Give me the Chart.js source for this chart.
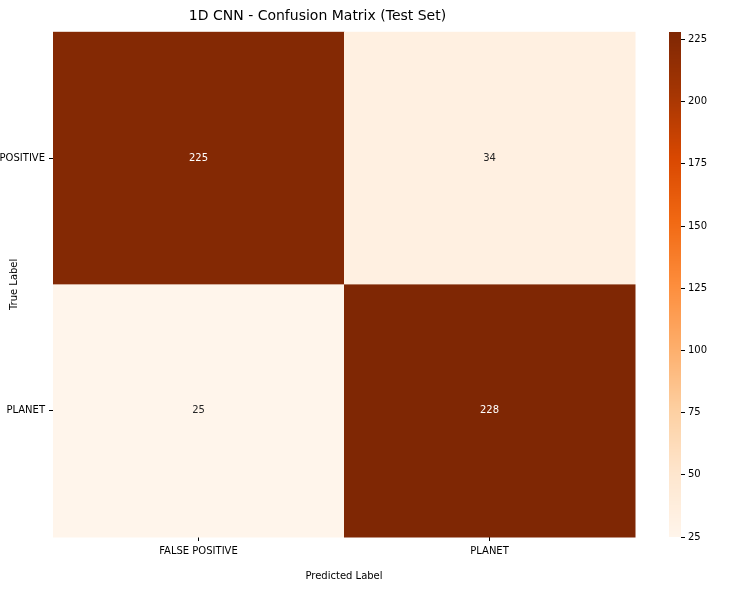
<!DOCTYPE html>
<html><head><meta charset="utf-8">
<script src="https://cdn.jsdelivr.net/npm/chart.js@4/dist/chart.umd.min.js"></script>
<style>body{margin:0;background:#fff}canvas{position:absolute;left:0;top:0}</style>
</head><body>
<div style="position:absolute;left:0;top:0;width:742px;height:590px"><canvas id="c1"></canvas></div>
<div style="position:absolute;left:0;top:0;width:742px;height:590px;pointer-events:none"><canvas id="c2"></canvas></div>
<script>
const predLabels = ["FALSE POSITIVE", "PLANET"];
const trueLabels = ["FALSE POSITIVE", "PLANET"];
const matrix = [[225, 34], [25, 228]];
const cbTicks = [25, 50, 75, 100, 125, 150, 175, 200, 225];
const vmin = 25, vmax = 228;

const stops = ["#fff5eb","#fee6ce","#fdd0a2","#fdae6b","#fd8d3c","#f16913","#d94801","#a63603","#7f2704"];
function hex(h){return [1,3,5].map(i=>parseInt(h.substr(i,2),16));}
function cmap(t){t=Math.max(0,Math.min(1,t));const p=t*(stops.length-1);const i=Math.min(Math.floor(p),stops.length-2);const f=p-i;const a=hex(stops[i]),b=hex(stops[i+1]);return `rgb(${a.map((v,k)=>Math.round(v+(b[k]-v)*f)).join(',')})`;}
const norm=v=>(v-vmin)/(vmax-vmin);
const FONT="'DejaVu Sans', sans-serif";
Chart.defaults.font.family=FONT;
Chart.defaults.color="#000";

const cells=[];
matrix.forEach((row,r)=>row.forEach((v,c)=>cells.push({x:c+0.5,y:r+0.5,v})));

const heat={id:'heat',beforeDatasetsDraw(ch){const {ctx,scales:{x,y}}=ch;
 cells.forEach(p=>{const x0=x.getPixelForValue(p.x-0.5),x1=x.getPixelForValue(p.x+0.5),y0=y.getPixelForValue(p.y-0.5),y1=y.getPixelForValue(p.y+0.5);
  ctx.fillStyle=cmap(norm(p.v));ctx.fillRect(Math.min(x0,x1),Math.min(y0,y1),Math.abs(x1-x0)+0.5,Math.abs(y1-y0)+0.5);
  ctx.fillStyle=norm(p.v)>0.5?'#fff':'#262626';ctx.font="10px "+FONT;ctx.textAlign='center';ctx.textBaseline='middle';
  ctx.fillText(String(p.v),x.getPixelForValue(p.x),y.getPixelForValue(p.y));});}};

const tickCfg={display:true,drawOnChartArea:false,drawTicks:true,tickLength:4,color:'#000'};
new Chart(document.getElementById('c1'),{type:'scatter',
 data:{datasets:[{data:cells,pointRadius:0}]},
 options:{responsive:true,maintainAspectRatio:false,animation:false,
  layout:{padding:{left:0,right:107,top:0,bottom:0}},
  plugins:{legend:{display:false},tooltip:{enabled:false},
   title:{display:true,text:"1D CNN - Confusion Matrix (Test Set)",font:{size:14,weight:'normal'},padding:{top:8,bottom:7}}},
  scales:{
   x:{type:'linear',min:0,max:2,grid:tickCfg,border:{display:false},
    afterBuildTicks(s){s.ticks=[{value:0.5},{value:1.5}];},
    ticks:{callback:v=>predLabels[Math.floor(v)],font:{size:10},maxRotation:0,padding:4},
    title:{display:true,text:"Predicted Label",font:{size:10},padding:{top:4,bottom:8}},
    afterFit(s){s.height=53;}},
   y:{type:'linear',min:0,max:2,reverse:true,grid:tickCfg,border:{display:false},
    afterBuildTicks(s){s.ticks=[{value:0.5},{value:1.5}];},
    ticks:{callback:v=>trueLabels[Math.floor(v)],font:{size:10},padding:4},
    title:{display:true,text:"True Label",font:{size:10},padding:{top:8,bottom:4}},
    afterFit(s){s.width=53;}}}},
 plugins:[heat]});

const cb={id:'cb',beforeDatasetsDraw(ch){const {ctx,chartArea:a,scales:{y}}=ch;
 for(let py=Math.floor(a.top);py<a.bottom;py++){const v=y.getValueForPixel(py+0.5);ctx.fillStyle=cmap(norm(v));ctx.fillRect(a.left,py,a.right-a.left,1);}}};
new Chart(document.getElementById('c2'),{type:'scatter',
 data:{datasets:[{data:[],pointRadius:0}]},
 options:{responsive:true,maintainAspectRatio:false,animation:false,
  layout:{padding:{left:669,right:0,top:32,bottom:53}},
  plugins:{legend:{display:false},tooltip:{enabled:false}},
  scales:{x:{display:false,min:0,max:1},
   y:{type:'linear',position:'right',min:vmin,max:vmax,grid:tickCfg,border:{display:false},
    afterBuildTicks(s){s.ticks=cbTicks.map(v=>({value:v}));},
    ticks:{font:{size:10},padding:3},
    afterFit(s){s.width=61;}}}},
 plugins:[cb]});
</script></body></html>
